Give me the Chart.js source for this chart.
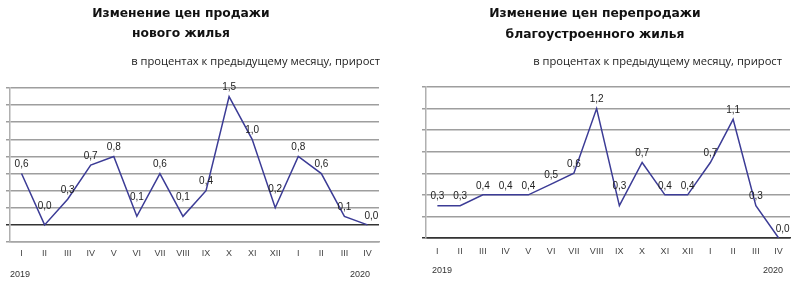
<!DOCTYPE html>
<html>
<head>
<meta charset="utf-8">
<script src="https://cdn.jsdelivr.net/npm/chart.js@4/dist/chart.umd.min.js"></script>
<style>
  body { margin: 0; background: #fff; }
  .wrap { position: absolute; top: 0; width: 400px; height: 283px; }
  .t { position: absolute; font-family: "DejaVu Sans", sans-serif; font-weight: bold; font-size: 12.3px; color: #111; white-space: nowrap; transform: translateX(-50%); }
  .sub { position: absolute; font-family: "Open Sans", sans-serif; font-size: 11.2px; color: #222; white-space: nowrap; }
  .yr { position: absolute; font-family: "Liberation Sans", sans-serif; font-size: 9px; color: #333; }
  canvas { position: absolute; left: 0; top: 0; }
</style>
</head>
<body>
<div class="wrap" style="left:0">
  <canvas id="c1" width="400" height="283"></canvas>
  <div class="t" style="left:181px;top:6px">Изменение цен продажи</div>
  <div class="t" style="left:181px;top:26px">нового жилья</div>
  <div class="sub" style="right:20px;top:53px">в процентах к предыдущему месяцу, прирост</div>
  <div class="yr" style="left:10px;top:269px">2019</div>
  <div class="yr" style="left:350px;top:269px">2020</div>
</div>
<div class="wrap" style="left:400px">
  <canvas id="c2" width="400" height="283"></canvas>
  <div class="t" style="left:195px;top:6px">Изменение цен перепродажи</div>
  <div class="t" style="left:195px;top:27px">благоустроенного жилья</div>
  <div class="sub" style="right:18px;top:53px">в процентах к предыдущему месяцу, прирост</div>
  <div class="yr" style="left:32px;top:265px">2019</div>
  <div class="yr" style="left:363px;top:265px">2020</div>
</div>
<script>
const months = ['I','II','III','IV','V','VI','VII','VIII','IX','X','XI','XII','I','II','III','IV'];
const newHousing = [0.6, 0.0, 0.3, 0.7, 0.8, 0.1, 0.6, 0.1, 0.4, 1.5, 1.0, 0.2, 0.8, 0.6, 0.1, 0.0];
const resaleHousing = [0.3, 0.3, 0.4, 0.4, 0.4, 0.5, 0.6, 1.2, 0.3, 0.7, 0.4, 0.4, 0.7, 1.1, 0.3, 0.0];

// value labels above points, a bit higher at local minimums
const valueLabels = {
  id: 'valueLabels',
  afterDatasetsDraw(chart) {
    const ctx = chart.ctx;
    const data = chart.data.datasets[0].data;
    const pts = chart.getDatasetMeta(0).data;
    ctx.save();
    ctx.font = '10px "Liberation Sans", sans-serif';
    ctx.fillStyle = '#222';
    ctx.textAlign = 'center';
    ctx.textBaseline = 'bottom';
    pts.forEach((p, i) => {
      const prev = i > 0 ? data[i - 1] : -Infinity;
      const next = i < data.length - 1 ? data[i + 1] : -Infinity;
      const isMin = data[i] < prev && data[i] < next;
      const dx = i === data.length - 1 ? 4 : 0;
      ctx.fillText(data[i].toFixed(1).replace('.', ','), p.x + dx, p.y - (isMin ? 14 : 4));
    });
    ctx.restore();
  }
};

function makeChart(id, values, yMin, yMax, leftW, rightPad, topPad, xHeight, xBorder, tickPad) {
  return new Chart(document.getElementById(id), {
    type: 'line',
    data: {
      labels: months,
      datasets: [{
        data: values,
        borderColor: '#3c3c96',
        borderWidth: 1.5,
        pointRadius: 0,
        tension: 0,
        fill: false
      }]
    },
    options: {
      responsive: false,
      animation: false,
      layout: { padding: { left: 0, right: rightPad, top: topPad, bottom: 0 } },
      plugins: { legend: { display: false }, tooltip: { enabled: false } },
      scales: {
        x: {
          offset: true,
          grid: { display: false, drawTicks: false, tickLength: 0 },
          border: { color: xBorder, width: 1.5 },
          ticks: { color: '#444', font: { size: 9, family: 'Liberation Sans' }, padding: tickPad, maxRotation: 0, autoSkip: false },
          afterFit(s) { s.height = xHeight; }
        },
        y: {
          min: yMin,
          max: yMax,
          ticks: { display: false, stepSize: 0.2 },
          grid: {
            color: c => Math.abs(c.tick.value) < 1e-9 ? '#333' : '#9e9e9e',
            lineWidth: 1.5,
            tickLength: 4
          },
          border: { color: '#b0b0b0', width: 1.5 },
          afterFit(s) { s.width = leftW; }
        }
      }
    },
    plugins: [valueLabels]
  });
}

makeChart('c1', newHousing, -0.2, 1.6, 10, 21, 88, 41, '#a6a6a6', 6);
makeChart('c2', resaleHousing, 0, 1.4, 26, 10, 87, 45, '#333', 8);
</script>
</body>
</html>
